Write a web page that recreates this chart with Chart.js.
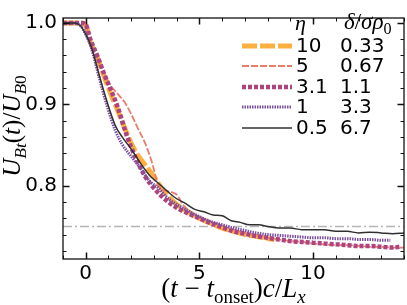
<!DOCTYPE html>
<html>
<head>
<meta charset="utf-8">
<script src="https://cdn.jsdelivr.net/npm/chart.js@4.4.0/dist/chart.umd.min.js"></script>
<style>
html, body { margin: 0; padding: 0; background: #fff; }
#wrap { width: 407px; height: 305px; }
</style>
</head>
<body>
<div id="wrap"><canvas id="myChart"></canvas></div>
<script>
// legend text
const etaLabels = ["10", "5", "3.1", "1", "0.5"]
const deltaLabels = ["0.33", "0.67", "1.1", "3.3", "6.7"]

// axis ticks
const xMajor = [0, 5, 10]
const yMajor = [0.8, 0.9, 1.0]

// reference level (dash-dot)
const refX = [-1, 14]
const refY = [0.75, 0.75]

// eta = 10
const x10 = [-1, -0.5, -0.2, 0, 0.2, 0.5, 0.8, 1.1, 1.4, 1.7, 2.0, 2.3, 2.6, 3.0, 3.5, 4.0, 4.5, 5.0, 5.5, 6.0, 6.5, 7.0, 7.5, 8.0, 8.3]
const y10 = [1.0, 1.0, 1.0, 0.997, 0.977, 0.958, 0.935, 0.913, 0.893, 0.872, 0.852, 0.837, 0.826, 0.811, 0.791, 0.777, 0.768, 0.760, 0.754, 0.748, 0.744, 0.740, 0.738, 0.735, 0.734]

// eta = 5
const x5 = [-1, -0.5, -0.2, 0, 0.2, 0.5, 0.8, 1.1, 1.4, 1.7, 2.0, 2.3, 2.6, 2.9, 3.2, 3.5, 3.8, 4.0, 4.3, 4.7, 5.0, 5.5, 6.0, 6.5, 7.0, 7.5, 8.0, 8.5, 9.0, 9.5, 10, 10.5, 11, 11.5, 12, 12.5, 13, 13.5, 14]
const y5 = [1.0, 1.0, 1.0, 0.997, 0.978, 0.958, 0.939, 0.923, 0.913, 0.903, 0.888, 0.870, 0.853, 0.830, 0.800, 0.794, 0.792, 0.789, 0.776, 0.766, 0.761, 0.756, 0.751, 0.746, 0.742, 0.739, 0.736, 0.734, 0.732, 0.731, 0.729, 0.728, 0.727, 0.727, 0.726, 0.725, 0.725, 0.724, 0.724]

// eta = 3.1
const x31 = [-1, -0.5, -0.2, 0, 0.2, 0.5, 0.8, 1.1, 1.4, 1.8, 2.2, 2.6, 3.0, 3.5, 4.0, 4.5, 5.0, 5.5, 6.0, 6.5, 7.0, 7.5, 8.0, 8.5, 9.0, 9.5, 10, 10.5, 11, 11.5, 12, 12.5, 13, 13.5, 13.8]
const y31 = [1.0, 1.0, 1.0, 0.998, 0.980, 0.960, 0.938, 0.918, 0.897, 0.862, 0.834, 0.812, 0.797, 0.783, 0.773, 0.766, 0.760, 0.754, 0.749, 0.744, 0.741, 0.738, 0.736, 0.734, 0.732, 0.731, 0.730, 0.729, 0.728, 0.727, 0.726, 0.726, 0.725, 0.724, 0.725]

// eta = 1
const x1 = [-1, -0.5, -0.25, 0, 0.25, 0.6, 0.95, 1.3, 1.6, 2.0, 2.4, 2.8, 3.2, 3.6, 4.0, 4.5, 5.0, 5.5, 6.0, 6.5, 7.0, 7.5, 8.0, 8.5, 9.0, 9.5, 10, 10.5, 11, 11.5, 12, 12.5, 13, 13.4]
const y1 = [1.0, 1.0, 0.997, 0.986, 0.969, 0.932, 0.897, 0.868, 0.851, 0.836, 0.822, 0.806, 0.797, 0.785, 0.777, 0.769, 0.762, 0.756, 0.752, 0.748, 0.745, 0.742, 0.740, 0.739, 0.738, 0.737, 0.736, 0.736, 0.735, 0.735, 0.734, 0.734, 0.733, 0.733]

// eta = 0.5
const x05 = [-1, -0.5, -0.25, 0, 0.25, 0.6, 0.95, 1.3, 1.6, 2.0, 2.4, 2.8, 3.2, 3.6, 4.0, 4.4, 4.8, 5.2, 5.6, 6.0, 6.4, 6.8, 7.2, 7.6, 8.0, 8.5, 9.0, 9.5, 10.0, 10.5, 11.0, 11.5, 12.0, 12.5, 13.0, 13.5, 14.0]
const y05 = [1.0, 1.0, 0.997, 0.986, 0.970, 0.935, 0.902, 0.874, 0.860, 0.845, 0.828, 0.813, 0.803, 0.793, 0.784, 0.778, 0.771, 0.768, 0.764, 0.763, 0.757, 0.755, 0.752, 0.752, 0.750, 0.748, 0.748, 0.746, 0.746, 0.746, 0.744, 0.744, 0.742, 0.743, 0.742, 0.741, 0.742]

const pts = (xs, ys) => xs.map((v, i) => ({ x: v, y: ys[i] }))

const ctx = document.querySelector("#myChart")

const sans = "'DejaVu Sans', sans-serif"
const serif = "'Liberation Serif', 'DejaVu Serif', serif"

const series = [
    { data: pts(x10, y10), borderColor: "#fbb040", borderWidth: 5, borderDash: [15, 3], order: 4 },
    { data: pts(x5, y5), borderColor: "#ee7b6a", borderWidth: 1.8, borderDash: [7, 2], order: 3 },
    { data: pts(x31, y31), borderColor: "#ad437f", borderWidth: 4.5, borderDash: [4, 2], order: 2 },
    { data: pts(x1, y1), borderColor: "#7b52a3", borderWidth: 3, borderDash: [1.5, 1], order: 1 },
    { data: pts(x05, y05), borderColor: "#303030", borderWidth: 1.5, borderDash: [], order: 0 },
]

const fontOf = (p, size) => `${p.it ? "italic " : ""}${(p.sub ? 0.7 : 1) * size}px ${serif}`

// draws a small math-like string made of parts, centered on x
function drawMath(c, parts, x, y, size) {
    let w = 0
    parts.forEach(p => { c.font = fontOf(p, size); w += c.measureText(p.t).width })
    drawMathLeft(c, parts, x - w / 2, y, size)
}

function drawMathLeft(c, parts, x, y, size) {
    let cx = x
    parts.forEach(p => {
        c.font = fontOf(p, size)
        c.fillText(p.t, cx, y + (p.sub ? 0.22 * size : 0))
        cx += c.measureText(p.t).width
    })
}

const decor = {
    id: "decor",
    afterDraw(chart) {
        const c = chart.ctx
        const a = chart.chartArea
        const sx = chart.scales.x
        const sy = chart.scales.y
        c.save()
        c.strokeStyle = "#111"
        c.fillStyle = "#000"

        // inward ticks on all four sides
        for (let v = Math.ceil(sx.min); v <= sx.max; v++) {
            const major = xMajor.includes(v)
            const len = major ? 6.5 : 3.5
            const px = Math.round(sx.getPixelForValue(v)) + 0.5
            c.lineWidth = major ? 1.5 : 1
            c.beginPath()
            c.moveTo(px, a.bottom); c.lineTo(px, a.bottom - len)
            c.moveTo(px, a.top); c.lineTo(px, a.top + len)
            c.stroke()
        }
        for (let k = 36; k <= 50; k++) {
            const v = k / 50
            const major = k % 5 === 0
            const len = major ? 6.5 : 3.5
            const py = Math.round(sy.getPixelForValue(v)) + 0.5
            c.lineWidth = major ? 1.5 : 1
            c.beginPath()
            c.moveTo(a.left, py); c.lineTo(a.left + len, py)
            c.moveTo(a.right, py); c.lineTo(a.right - len, py)
            c.stroke()
        }

        // frame
        c.lineWidth = 1.3
        c.strokeRect(a.left, a.top, a.right - a.left, a.bottom - a.top)

        // legend
        const rowY = [46, 66, 87, 107, 128]
        series.forEach((s, i) => {
            c.strokeStyle = s.borderColor
            c.lineWidth = s.borderWidth
            c.setLineDash(s.borderDash)
            c.beginPath()
            c.moveTo(242, rowY[i]); c.lineTo(292, rowY[i])
            c.stroke()
        })
        c.setLineDash([])
        c.fillStyle = "#000"
        c.textBaseline = "middle"
        c.textAlign = "left"
        c.font = `20px ${sans}`
        etaLabels.forEach((t, i) => c.fillText(t, 296, rowY[i] + 1))
        deltaLabels.forEach((t, i) => c.fillText(t, 340, rowY[i] + 1))

        c.textBaseline = "alphabetic"
        drawMathLeft(c, [{ t: "η", it: true }], 295, 30, 22)
        drawMathLeft(c, [{ t: "δ", it: true }, { t: "/" }, { t: "σρ", it: true }, { t: "0", sub: true }], 344, 29, 23)

        // x title
        drawMath(c, [
            { t: "(" }, { t: "t", it: true }, { t: " − " }, { t: "t", it: true }, { t: "onset", sub: true },
            { t: ")" }, { t: "c", it: true }, { t: "/" }, { t: "L", it: true }, { t: "x", it: true, sub: true }
        ], (a.left + a.right) / 2, 297, 27)

        // y title
        c.translate(20, 126)
        c.rotate(-Math.PI / 2)
        drawMath(c, [
            { t: "U", it: true }, { t: "Bt", it: true, sub: true }, { t: "(" }, { t: "t", it: true }, { t: ")" },
            { t: "/" }, { t: "U", it: true }, { t: "B", it: true, sub: true }, { t: "0", sub: true }
        ], 0, 0, 25)
        c.restore()
    }
}

new Chart(ctx, {
    type: "scatter",
    data: {
        datasets: [
            ...series.map((s, i) => ({
                label: etaLabels[i],
                data: s.data,
                showLine: true,
                pointRadius: 0,
                borderColor: s.borderColor,
                borderWidth: s.borderWidth,
                borderDash: s.borderDash,
                borderCapStyle: "butt",
                cubicInterpolationMode: "monotone",
                order: s.order,
            })),
            {
                label: "ref",
                data: pts(refX, refY),
                showLine: true,
                pointRadius: 0,
                borderColor: "#b5b5b5",
                borderWidth: 1.5,
                borderDash: [9, 3, 2, 3],
                order: 5,
            },
        ],
    },
    options: {
        responsive: true,
        maintainAspectRatio: false,
        animation: false,
        events: [],
        layout: { padding: { top: 2, right: 3, left: 0, bottom: 0 } },
        plugins: { legend: { display: false }, tooltip: { enabled: false } },
        scales: {
            x: {
                type: "linear",
                min: -1,
                max: 14,
                grid: { display: false, drawTicks: false },
                border: { display: false },
                afterBuildTicks: s => { s.ticks = xMajor.map(v => ({ value: v })) },
                afterFit: s => { s.height = 46 },
                ticks: { color: "#000", font: { family: sans, size: 20 }, padding: 3, maxRotation: 0 },
            },
            y: {
                type: "linear",
                min: 0.71,
                max: 1.006,
                grid: { display: false, drawTicks: false },
                border: { display: false },
                afterBuildTicks: s => { s.ticks = yMajor.map(v => ({ value: v })) },
                afterFit: s => { s.width = 63 },
                ticks: { color: "#000", font: { family: sans, size: 20 }, padding: 6, callback: v => v.toFixed(1) },
            },
        },
    },
    plugins: [decor],
})
</script>
</body>
</html>
